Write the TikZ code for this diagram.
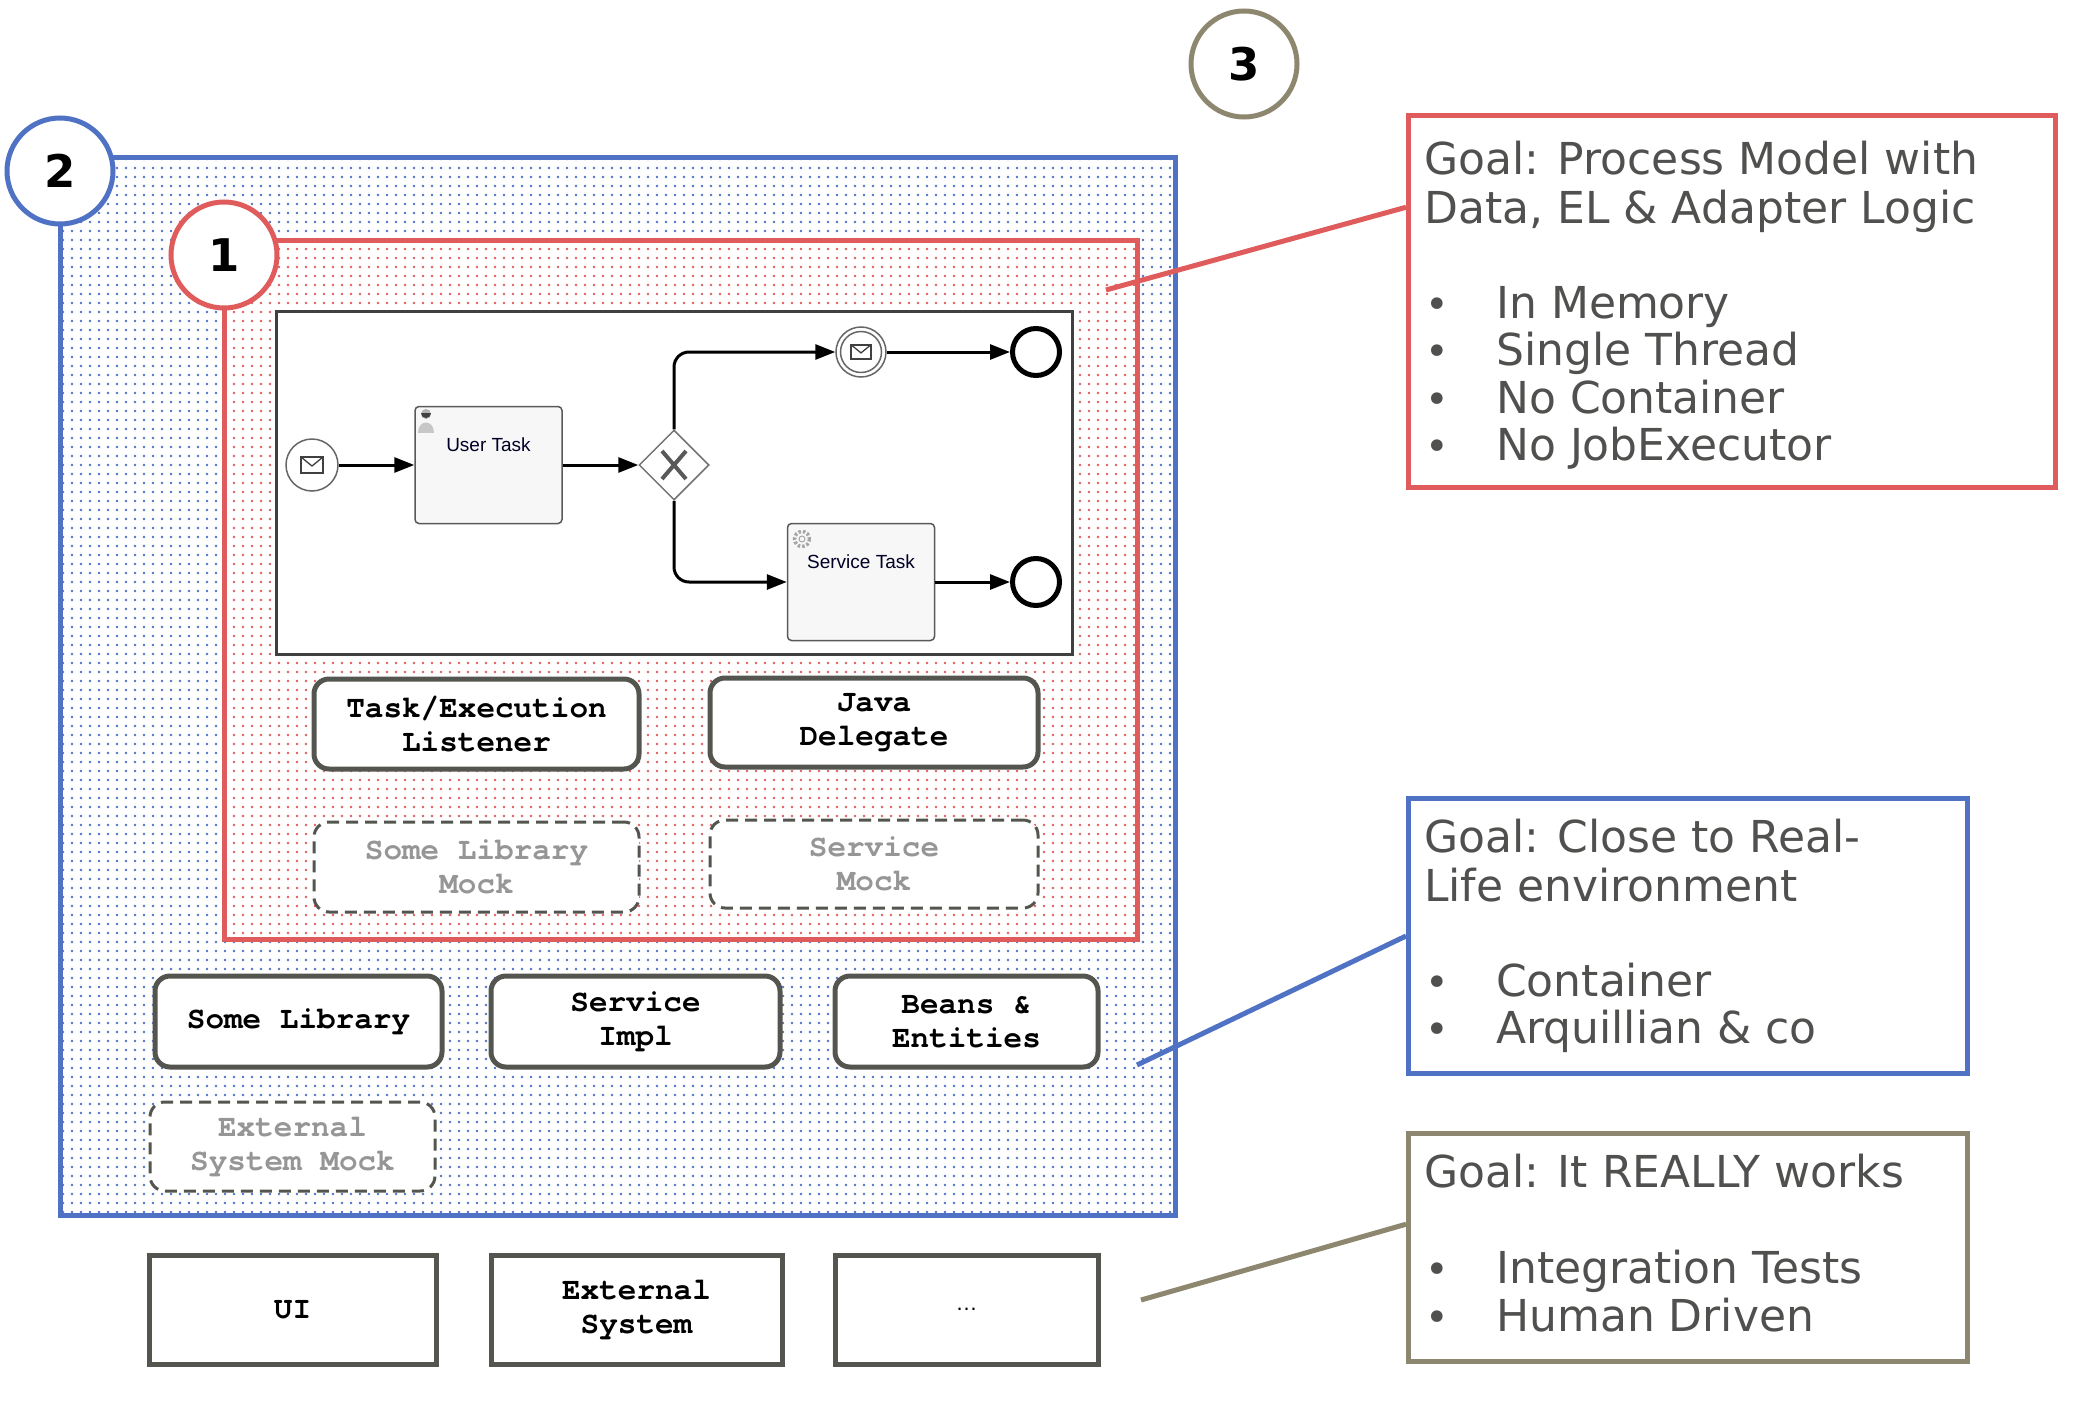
\documentclass[tikz,border=0pt]{standalone}
\usepackage{fontspec}
\setmonofont{TeX Gyre Cursor}
\newfontfamily\goalfont{DejaVu Sans}
\newfontfamily\bpmnfont{Liberation Sans}
\usetikzlibrary{patterns.meta,arrows.meta,shapes.geometric,calc}
\definecolor{cblue}{RGB}{79,114,196}
\definecolor{cred}{RGB}{224,92,92}
\definecolor{ctan}{RGB}{140,135,110}
\definecolor{cbox}{RGB}{85,85,80}
\definecolor{ctext}{RGB}{80,80,78}
\definecolor{cmock}{RGB}{150,150,150}
\newcommand\goalbullet{\makebox[72pt][l]{\hspace{1pt}{\fontsize{40}{40}\selectfont •}}}
\begin{document}
\begin{tikzpicture}[x=1pt,y=-1pt,
  numcirc/.style={circle, line width=5pt, fill=white, minimum size=106pt, inner sep=0pt,
    font=\goalfont\bfseries\fontsize{45}{45}\selectfont},
  comp/.style={rectangle, rounded corners=15pt, draw=cbox, line width=5pt, fill=white,
    align=center, inner sep=0pt, font=\ttfamily\bfseries\fontsize{31}{34}\selectfont},
  mock/.style={comp, line width=3pt, dash pattern=on 12pt off 7pt, text=cmock},
  extbox/.style={comp, sharp corners},
  goalbox/.style={rectangle, line width=5pt, fill=white, anchor=north west, inner sep=0pt},
  goaltext/.style={anchor=north west, inner sep=0pt, align=left, text=ctext,
    font=\goalfont\fontsize{44}{47.5}\selectfont},
  callout/.style={line width=5pt},
  flow/.style={line width=3pt, -{Triangle[length=20pt,width=15pt]}},
  task/.style={rectangle, rounded corners=4pt, draw=black!65, line width=1.5pt, fill=black!3,
    minimum width=147pt, minimum height=117pt, inner sep=0pt},
  tasklabel/.style={font=\bpmnfont\fontsize{19}{21}\selectfont, text=black!85!blue, inner sep=0pt},
  startev/.style={circle, draw=black!60, line width=1.5pt, fill=white, minimum size=52pt, inner sep=0pt},
  endev/.style={circle, draw=black, line width=5pt, fill=white, minimum size=47pt, inner sep=0pt},
  envelope/.pic={\draw[line width=1.6pt, black!75] (-11,-8) rectangle (11,8);
                 \draw[line width=1.3pt, black!75] (-11,-8) -- (0,1) -- (11,-8);}
]
\useasboundingbox (0,0) rectangle (2092,1410);
\fill[white] (0,0) rectangle (2092,1410);

% level 2 box (blue)
\draw[cblue, line width=5pt, preaction={fill=white},
      pattern={Dots[distance=9pt,radius=1.3pt]}, pattern color=cblue]
  (60,157) rectangle (1175,1215);
% level 1 box (red)
\draw[cred, line width=5pt, preaction={fill=white},
      pattern={Dots[distance=9pt,radius=1.3pt]}, pattern color=cred]
  (224,240) rectangle (1137,939);

% process model
\draw[black!75, line width=3pt, fill=white] (276,311) rectangle (1072,654);
\node[startev] (se) at (312,465) {};
\pic at (se) {envelope};
\node[task] (ut) at (488.5,465) {};
\node[tasklabel] (utl) at (488.5,445) {User Task};
\fill[black!22] (418,433) .. controls (418,419) and (434,419) .. (434,433) -- cycle;
\fill[black!30] (426,414) circle (5);
\fill[black!75] (421,413) arc (180:0:5) -- cycle;
\node[diamond, draw=black!55, line width=1.5pt, fill=white, minimum width=70pt,
      minimum height=70pt, inner sep=0pt] (gw) at (674,465) {};
\draw[line width=4pt, black!65] ([shift={(-12,-14)}]gw.center) -- ([shift={(12,14)}]gw.center);
\draw[line width=4pt, black!65] ([shift={(-12,14)}]gw.center) -- ([shift={(12,-14)}]gw.center);
\node[circle, draw=black!60, line width=1.5pt, fill=white, minimum size=50pt, inner sep=0pt] (ie) at (861,352) {};
\draw[black!60, line width=1.5pt] (ie.center) circle (20.5);
\pic[scale=0.9] at (ie) {envelope};
\node[endev] (e1) at (1036,352) {};
\node[task] (st) at (861,582) {};
\node[tasklabel] (stl) at (861,562) {Service Task};
\draw[black!35, line width=3.5pt, dash pattern=on 2.5pt off 2pt] (802,539) circle (7.5);
\draw[black!35, line width=1pt] (802,539) circle (3);
\node[endev] (e2) at (1036,582) {};

\draw[flow] (se) -- (ut);
\draw[flow] (ut) -- (gw);
\draw[flow, rounded corners=15pt] (gw.north) |- (ie.west);
\draw[flow] (ie) -- (e1);
\draw[flow, rounded corners=15pt] (gw.south) |- (st.west);
\draw[flow] (st) -- (e2);

% components
\node[comp, minimum width=325pt, minimum height=90pt] (tel) at (476.5,724) {Task/Execution\\Listener};
\node[comp, minimum width=328pt, minimum height=89pt] (jd) at (874,722.5) {Java\\Delegate};
\node[mock, minimum width=325pt, minimum height=90pt] (slm) at (476.5,867) {Some Library\\Mock};
\node[mock, minimum width=328pt, minimum height=88pt] (sm) at (874,864) {Service\\Mock};
\node[comp, minimum width=287pt, minimum height=91pt] (sl) at (298.5,1021.5) {Some Library};
\node[comp, minimum width=289pt, minimum height=91pt] (si) at (635.5,1021.5) {Service\\Impl};
\node[comp, minimum width=263pt, minimum height=91pt] (be) at (966.5,1021.5) {Beans \&\\Entities};
\node[mock, minimum width=285pt, minimum height=89pt] (esm) at (292.5,1146.5) {External\\System Mock};
\node[extbox, minimum width=287pt, minimum height=109pt] (ui) at (292.5,1309.5) {UI};
\node[extbox, minimum width=291pt, minimum height=109pt] (es) at (636.5,1309.5) {External\\System};
\node[extbox, minimum width=263pt, minimum height=109pt] (etc) at (966.5,1309.5) {{\bpmnfont\mdseries\fontsize{22}{22}\selectfont …}};

% number circles
\node[numcirc, draw=cblue] (n2) at (60,171) {2};
\node[numcirc, draw=cred] (n1) at (224,255) {1};
\node[numcirc, draw=ctan] (n3) at (1244,64) {3};

% goal boxes
\node[goalbox, draw=cred, minimum width=647pt, minimum height=372pt] (g1) at (1406,113) {};
\node[goalbox, draw=cblue, minimum width=559pt, minimum height=275pt] (g2) at (1406,796) {};
\node[goalbox, draw=ctan, minimum width=559pt, minimum height=228pt] (g3) at (1406,1131) {};

\node[goaltext] (t1) at (1424,141) {\strut Goal: Process Model with\\Data, EL \& Adapter Logic\\[47.5pt]\goalbullet In Memory\\\goalbullet Single Thread\\\goalbullet No Container\\\goalbullet No JobExecutor};
\node[goaltext] (t2) at (1424,819) {\strut Goal: Close to Real-\\Life environment\\[47.5pt]\goalbullet Container\\\goalbullet Arquillian \& co};
\node[goaltext] (t3) at (1424,1154) {\strut Goal: It REALLY works\\[47.5pt]\goalbullet Integration Tests\\\goalbullet Human Driven};

% callouts
\coordinate (c1) at (1106,290);
\coordinate (c2) at (1137,1065);
\coordinate (c3) at (1141,1300);
\draw[callout, cred] (c1) -- ($(g1.north west)!0.25!(g1.south west)$);
\draw[callout, cblue] (c2) -- (g2.west);
\draw[callout, ctan] (c3) -- ($(g3.north west)!0.4!(g3.south west)$);
\end{tikzpicture}
\end{document}
